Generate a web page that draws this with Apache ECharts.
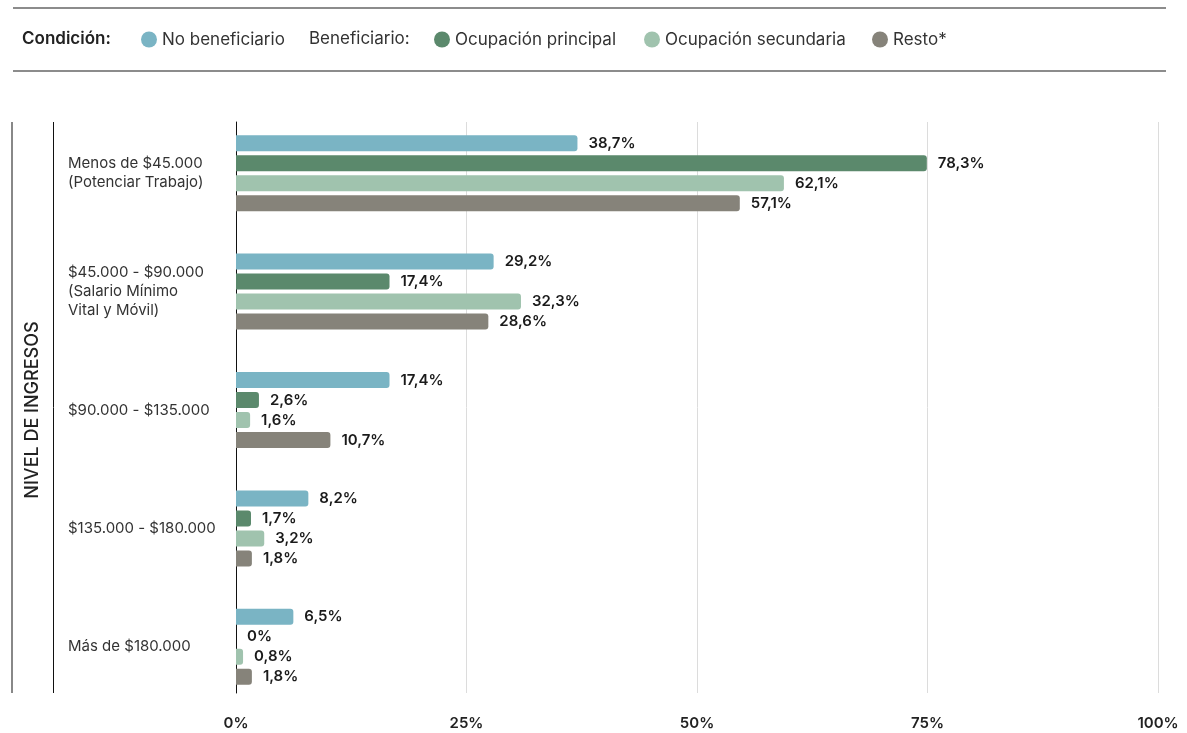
<!DOCTYPE html>
<html><head><meta charset="utf-8">
<script src="https://cdn.jsdelivr.net/npm/echarts@6/dist/echarts.min.js"></script>
<style>html,body{margin:0;padding:0;background:#fff}#c{width:1187px;height:733px}</style>
</head><body><div id="c"></div>
<script>
const categories = ['Menos de $45.000\n(Potenciar Trabajo)', '$45.000 - $90.000\n(Salario Mínimo\nVital y Móvil)', '$90.000 - $135.000', '$135.000 - $180.000', 'Más de $180.000'];
const seriesNames = ['No beneficiario', 'Ocupación principal', 'Ocupación secundaria', 'Resto*'];
const noBeneficiario = [38.7, 29.2, 17.4, 8.2, 6.5];
const ocupacionPrincipal = [78.3, 17.4, 2.6, 1.7, 0];
const ocupacionSecundaria = [62.1, 32.3, 1.6, 3.2, 0.8];
const resto = [57.1, 28.6, 10.7, 1.8, 1.8];
const tickValues = [0, 25, 50, 75, 100];
const colors = ['#7AB4C4', '#5B896C', '#A0C3AE', '#86837A'];

const FONT = 'Inter, "Noto Sans", sans-serif';
const fmt = v => String(v).replace('.', ',') + '%';
const allData = [noBeneficiario, ocupacionPrincipal, ocupacionSecundaria, resto];
const legendLefts = [136, 429, 639, 867];

const chart = echarts.init(document.getElementById('c'));
const option = {
  animation: false,
  textStyle: { fontFamily: FONT },
  legend: seriesNames.map((n, i) => ({
    data: [n], left: legendLefts[i], top: 26, icon: 'circle', itemWidth: 16, itemHeight: 16,
    textStyle: { fontSize: 17, color: '#333', fontFamily: FONT }
  })),
  graphic: [
    { type: 'line', shape: { x1: 13, y1: 8, x2: 1166, y2: 8 }, style: { stroke: '#666', lineWidth: 1.5 } },
    { type: 'line', shape: { x1: 13, y1: 71, x2: 1166, y2: 71 }, style: { stroke: '#666', lineWidth: 1.5 } },
    { type: 'text', left: 22, top: 30, style: { text: 'Condición:', fontSize: 17, fontWeight: 600, fill: '#222', fontFamily: FONT } },
    { type: 'text', left: 309, top: 30, style: { text: 'Beneficiario:', fontSize: 17, fill: '#333', fontFamily: FONT } },
    { type: 'line', shape: { x1: 12, y1: 122, x2: 12, y2: 693 }, style: { stroke: '#888', lineWidth: 2 } },
    { type: 'line', shape: { x1: 53.5, y1: 122, x2: 53.5, y2: 693 }, style: { stroke: '#111', lineWidth: 1 } }
  ],
  grid: [
    { left: 236, right: 29, top: 114, bottom: 27 },
    { left: 236, right: 29, top: 122, bottom: 40 }
  ],
  xAxis: [
    { gridIndex: 0, type: 'value', min: 0, max: 104.5, show: false },
    { gridIndex: 1, type: 'value', min: 0, max: 100, interval: 25,
      axisLine: { show: false }, axisTick: { show: false },
      splitLine: { show: true, lineStyle: { color: '#dcdcdc', width: 1 } },
      axisLabel: { margin: 23, fontSize: 15, fontWeight: 600, color: '#222', fontFamily: FONT,
        formatter: v => tickValues.includes(v) ? v + '%' : '' } }
  ],
  yAxis: [
    { gridIndex: 0, type: 'category', data: categories, inverse: true,
      axisLine: { show: false }, axisTick: { show: false },
      axisLabel: { align: 'left', margin: 168, fontSize: 15, color: '#333', lineHeight: 19, fontFamily: FONT },
      name: 'NIVEL DE INGRESOS', nameLocation: 'middle', nameRotate: 90, nameGap: 194,
      nameTextStyle: { fontSize: 18, color: '#222', fontFamily: FONT, fontWeight: 500 } },
    { gridIndex: 1, type: 'value', min: 0, max: 1,
      axisLine: { show: true, lineStyle: { color: '#111', width: 1 } },
      axisTick: { show: false }, axisLabel: { show: false }, splitLine: { show: false } }
  ],
  series: seriesNames.map((name, i) => ({
    name, type: 'bar', xAxisIndex: 0, yAxisIndex: 0,
    data: allData[i], barWidth: 16, barGap: '25%',
    itemStyle: { color: colors[i], borderRadius: [0, 3, 3, 0] },
    label: { show: true, position: 'right', distance: 11, fontSize: 15, fontWeight: 600, color: '#1a1a1a',
      fontFamily: FONT, formatter: p => fmt(p.value) }
  }))
};
chart.setOption(option);
</script></body></html>
